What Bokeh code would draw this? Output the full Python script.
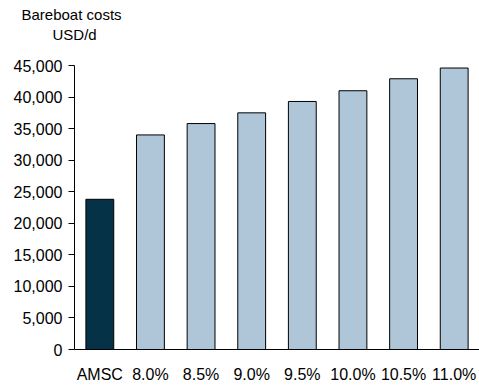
from bokeh.plotting import figure
from bokeh.models import FixedTicker, NumeralTickFormatter, Title, FactorRange, ColumnDataSource
from bokeh.embed import file_html
from bokeh.resources import INLINE

categories = ["AMSC", "8.0%", "8.5%", "9.0%", "9.5%", "10.0%", "10.5%", "11.0%"]
values = [23800, 34000, 35800, 37500, 39300, 41000, 42900, 44600]
colors = ["#053246", "#AFC5D8", "#AFC5D8", "#AFC5D8", "#AFC5D8", "#AFC5D8", "#AFC5D8", "#AFC5D8"]
y_ticks = list(range(0, 45001, 5000))
title_lines = ["Bareboat costs", "USD/d"]

src = ColumnDataSource(dict(cat=categories, val=values, col=colors))

p = figure(width=479, height=388, x_range=FactorRange(*categories, range_padding=0),
           y_range=(0, 45000), output_backend="svg", toolbar_location=None,
           min_border_left=74, min_border_right=0, min_border_top=0, min_border_bottom=39)
p.vbar(x="cat", top="val", width=0.55, fill_color="col", line_color="black",
       line_width=1, source=src)

p.xgrid.visible = False
p.ygrid.visible = False
p.outline_line_color = None
p.background_fill_color = "white"

font = "Liberation Sans"
fs = "16px"
p.yaxis.ticker = FixedTicker(ticks=y_ticks)
p.yaxis.formatter = NumeralTickFormatter(format="0,0")
p.yaxis.minor_tick_line_color = None
p.yaxis.major_tick_out = 6
p.yaxis.major_tick_in = 0
p.yaxis.major_tick_line_color = "black"
p.yaxis.axis_line_color = "black"
p.yaxis.major_label_text_font = font
p.yaxis.major_label_text_font_size = fs
p.yaxis.major_label_text_color = "black"
p.yaxis.major_label_standoff = 6

p.xaxis.major_tick_line_color = None
p.xaxis.minor_tick_line_color = None
p.xaxis.axis_line_color = "black"
p.xaxis.major_label_text_font = font
p.xaxis.major_label_text_font_size = fs
p.xaxis.major_label_text_color = "black"
p.xaxis.major_label_standoff = 10

tkw = dict(align="left", text_font=font, text_font_size="15px",
           text_font_style="normal", text_color="black")
# panels stack outward from the frame: spacer, then "USD/d", then "Bareboat costs"
p.add_layout(Title(text=" ", standoff=2, **tkw), "above")
p.add_layout(Title(text=title_lines[1], offset=-22, standoff=0, vertical_align="top", **tkw), "above")
p.add_layout(Title(text=title_lines[0], offset=-53, standoff=6, **tkw), "above")

open("out.html", "w").write(file_html(p, INLINE))
